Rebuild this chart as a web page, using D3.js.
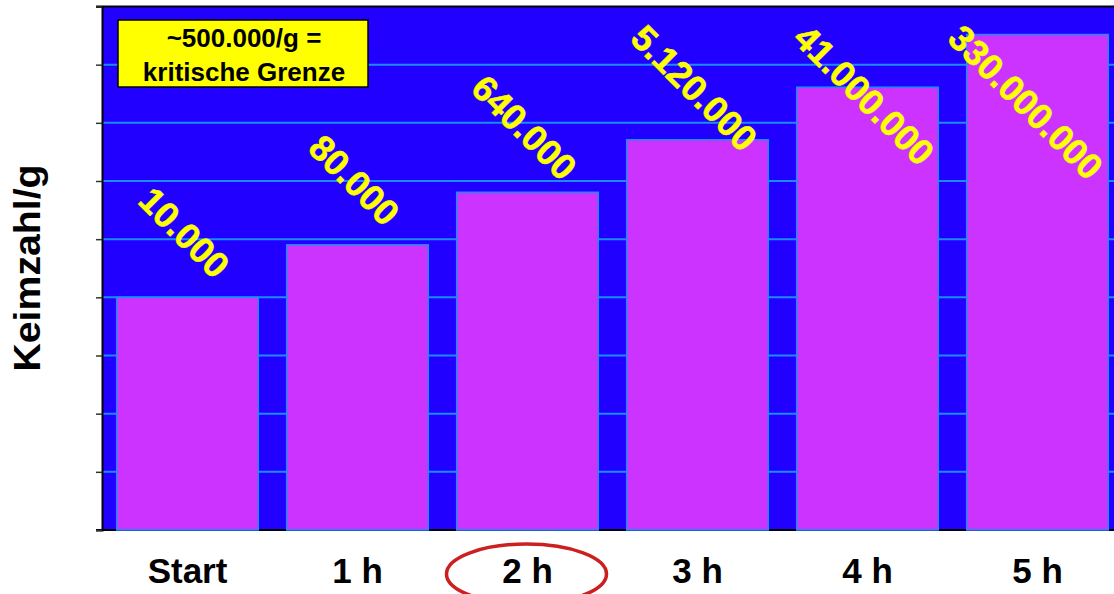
<!DOCTYPE html>
<html>
<head>
<meta charset="utf-8">
<script src="https://cdn.jsdelivr.net/npm/d3@7"></script>
<style>
  body { margin: 0; background: #fff; }
  svg { display: block; font-family: "Liberation Sans", Arial, sans-serif; }
</style>
</head>
<body>
<div class="chart"></div>
<script>
/* Data
============================================= */
const categories = ["Start", "1 h", "2 h", "3 h", "4 h", "5 h"];
const counts     = [10000, 80000, 640000, 5120000, 41000000, 330000000];
const countLabels = ["10.000", "80.000", "640.000", "5.120.000", "41.000.000", "330.000.000"];
const yTicks     = [1, 1e1, 1e2, 1e3, 1e4, 1e5, 1e6, 1e7, 1e8, 1e9];
const noteLines  = ["~500.000/g =", "kritische Grenze"];
const yTitle     = "Keimzahl/g";
const markedCategory = "2 h";

/* Layout
============================================= */
const SVG_WIDTH = 1114;
const SVG_HEIGHT = 594;
const PLOT = { left: 102, top: 6.5, right: 1114, bottom: 530 };

const BG_BLUE = "#2200ff";
const BAR_FILL = "#cc33ff";
const GRID_BLUE = "#1a8cff";
const LABEL_YELLOW = "#ffff00";

var svg = d3.select(".chart")
    .append("svg")
    .attr("width", SVG_WIDTH)
    .attr("height", SVG_HEIGHT);

// scales
var x = d3.scaleBand()
    .domain(categories)
    .range([102.5, 1122.5])
    .paddingInner(0.167)
    .paddingOuter(0.0835);

var y = d3.scaleLog()
    .domain([1, 1e9])
    .range([PLOT.bottom, PLOT.top]);

// plot background
svg.append("rect")
    .attr("x", PLOT.left)
    .attr("y", PLOT.top)
    .attr("width", PLOT.right - PLOT.left)
    .attr("height", PLOT.bottom - PLOT.top)
    .attr("fill", BG_BLUE);

// gridlines
svg.append("g")
    .selectAll("line")
    .data(yTicks.filter(function(d) { return d > 1 && d < 1e9; }))
    .enter()
    .append("line")
    .attr("x1", PLOT.left)
    .attr("x2", PLOT.right)
    .attr("y1", function(d) { return y(d); })
    .attr("y2", function(d) { return y(d); })
    .attr("stroke", GRID_BLUE)
    .attr("stroke-width", 2);

// top border
svg.append("line")
    .attr("x1", 96).attr("x2", PLOT.right)
    .attr("y1", PLOT.top).attr("y2", PLOT.top)
    .attr("stroke", "#000").attr("stroke-width", 2);

// bottom axis line
svg.append("line")
    .attr("x1", 96).attr("x2", PLOT.right)
    .attr("y1", PLOT.bottom).attr("y2", PLOT.bottom)
    .attr("stroke", "#000").attr("stroke-width", 2);

// bars
svg.append("g")
    .selectAll("rect")
    .data(counts)
    .enter()
    .append("rect")
    .attr("x", function(d, i) { return x(categories[i]); })
    .attr("y", function(d) { return y(d); })
    .attr("width", x.bandwidth())
    .attr("height", function(d) { return PLOT.bottom - y(d); })
    .attr("fill", BAR_FILL)
    .attr("stroke", GRID_BLUE)
    .attr("stroke-width", 1.5);

// left axis (ticks only)
var leftAxis = d3.axisLeft(y)
    .tickValues(yTicks)
    .tickSize(6)
    .tickFormat("");

var yAxis = svg.append("g")
    .attr("transform", `translate(${PLOT.left}, 0)`)
    .call(leftAxis);
yAxis.select(".domain").attr("stroke", "#000").attr("stroke-width", 2);
yAxis.selectAll(".tick line").attr("stroke", "#333").attr("stroke-width", 1.5);

// x category labels
svg.append("g")
    .selectAll("text")
    .data(categories)
    .enter()
    .append("text")
    .attr("x", function(d) { return x(d) + x.bandwidth() / 2; })
    .attr("y", 583)
    .attr("text-anchor", "middle")
    .attr("font-size", 35)
    .attr("font-weight", "bold")
    .attr("fill", "#000")
    .text(function(d) { return d; });

// red ellipse round the marked category
svg.append("ellipse")
    .attr("cx", x(markedCategory) + x.bandwidth() / 2 - 1)
    .attr("cy", 574)
    .attr("rx", 80)
    .attr("ry", 30)
    .attr("fill", "none")
    .attr("stroke", "#cc1f1f")
    .attr("stroke-width", 3.5);

// value labels, rotated 45 degrees, kept inside the plot
var LABEL_SIZE = 36;
var labelGroup = svg.append("g");
labelGroup.selectAll("text")
    .data(counts)
    .enter()
    .append("text")
    .attr("text-anchor", "middle")
    .attr("dy", "0.36em")
    .attr("font-size", LABEL_SIZE)
    .attr("font-weight", "bold")
    .attr("fill", LABEL_YELLOW)
    .attr("stroke", LABEL_YELLOW)
    .attr("stroke-width", 0.6)
    .text(function(d, i) { return countLabels[i]; })
    .each(function(d, i) {
        var len = this.getComputedTextLength();
        var half = Math.SQRT1_2 * (len / 2 + LABEL_SIZE * 0.36);
        var cx = x(categories[i]) + x.bandwidth() / 2 - 3;
        cx = Math.min(cx, 1106 - half);
        var cy = Math.max(y(d) - 65, 22 + half);
        d3.select(this).attr("transform", `translate(${cx}, ${cy}) rotate(45)`);
    });

// note box
var note = svg.append("g");
note.append("rect")
    .attr("x", 118)
    .attr("y", 20)
    .attr("width", 250)
    .attr("height", 67)
    .attr("fill", "#ffff00")
    .attr("stroke", "#000")
    .attr("stroke-width", 1.5);
note.selectAll("text")
    .data(noteLines)
    .enter()
    .append("text")
    .attr("x", 244)
    .attr("y", function(d, i) { return 47 + i * 34; })
    .attr("text-anchor", "middle")
    .attr("font-size", 26)
    .attr("font-weight", "bold")
    .attr("fill", "#000")
    .text(function(d) { return d; });

// y axis title
svg.append("text")
    .attr("transform", "translate(40, 268) rotate(-90)")
    .attr("text-anchor", "middle")
    .attr("font-size", 37)
    .attr("font-weight", "bold")
    .attr("textLength", 207)
    .attr("lengthAdjust", "spacingAndGlyphs")
    .attr("fill", "#000")
    .text(yTitle);
</script>
</body>
</html>
